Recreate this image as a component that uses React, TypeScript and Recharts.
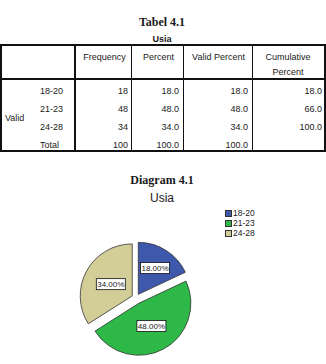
import React from 'react';
import { PieChart, Pie, Cell, Sector, Legend } from 'recharts';

// ---- data ----
const CATEGORIES = ['18-20', '21-23', '24-28'];
const FREQUENCY = [18, 48, 34];
const PERCENT = ['18.0', '48.0', '34.0'];
const VALID_PERCENT = ['18.0', '48.0', '34.0'];
const CUMULATIVE = ['18.0', '66.0', '100.0'];
const TOTAL_FREQ = '100';
const TOTAL_PERCENT = '100.0';
const TOTAL_VALID = '100.0';
const HEADERS = ['Frequency', 'Percent', 'Valid Percent'];

const pieData = CATEGORIES.map((name, i) => ({ name, value: FREQUENCY[i] }));

// ---- style ----
const COLORS = ['#3E58AC', '#2EB848', '#D3CE97'];
const EXPLODE = [4.3, 6, 4.3];
const LABEL_R = [0.6, 0.5, 0.47];
const SANS = "Arial, 'Liberation Sans', sans-serif";
const SERIF = "'Times New Roman', 'Liberation Serif', serif";
const INK = '#1a1a1a';

type TP = { x: number; y: number; a?: 'left' | 'center' | 'right'; size?: number; bold?: boolean; family?: string; children: React.ReactNode };
const T = ({ x, y, a = 'left', size = 9, bold = false, family = SANS, children }: TP) => {
  const w = 200;
  const left = a === 'left' ? x : a === 'center' ? x - w / 2 : x - w;
  return (
    <div
      style={{
        position: 'absolute', left, top: y - size, width: w, height: size * 2,
        lineHeight: `${size * 2}px`, fontSize: size, textAlign: a, fontFamily: family,
        fontWeight: bold ? 'bold' : 'normal', color: INK, whiteSpace: 'nowrap',
      }}
    >
      {children}
    </div>
  );
};

const L = ({ x, y, w, h }: { x: number; y: number; w: number; h: number }) => (
  <div style={{ position: 'absolute', left: x, top: y, width: w, height: h, background: '#111' }} />
);

const RAD = Math.PI / 180;
const renderSlice = (props: any) => {
  const { cx, cy, midAngle, innerRadius, outerRadius, startAngle, endAngle, index, percent } = props;
  const d = EXPLODE[index];
  const ox = cx + d * Math.cos(-midAngle * RAD);
  const oy = cy + d * Math.sin(-midAngle * RAD);
  const lr = outerRadius * LABEL_R[index];
  const lx = ox + lr * Math.cos(-midAngle * RAD);
  const ly = oy + lr * Math.sin(-midAngle * RAD);
  const text = (percent * 100).toFixed(2) + '%';
  return (
    <g key={`slice-${index}`}>
      <Sector
        cx={ox} cy={oy} innerRadius={innerRadius} outerRadius={outerRadius}
        startAngle={startAngle} endAngle={endAngle}
        fill={COLORS[index]} stroke="#333" strokeWidth={0.8}
      />
      <rect x={lx - 14.5} y={ly - 5.5} width={29} height={11} fill="#fff" stroke="#111" strokeWidth={0.8} />
      <text x={lx} y={ly + 0.5} textAnchor="middle" dominantBaseline="central" fontSize={8} fontFamily={SANS} fill={INK}>
        {text}
      </text>
    </g>
  );
};

const colX = [0, 75, 132, 183, 252, 325];
const rowY = [91, 109, 127, 145];
const valEnd = [128, 179, 248, 322];

export default function App() {
  return (
    <div style={{ position: 'absolute', left: 0, top: 0, width: 326, height: 364, background: '#fff', overflow: 'hidden' }}>
      <T x={162} y={22} a="center" size={12} bold family={SERIF}>Tabel 4.1</T>
      <T x={162} y={39} a="center" size={9} bold>Usia</T>

      {/* table lines */}
      <L x={0} y={44} w={326} h={2} />
      <L x={0} y={78} w={326} h={2} />
      <L x={0} y={150} w={326} h={2} />
      <L x={0} y={44} w={2} h={108} />
      <L x={324} y={44} w={2} h={108} />
      <L x={74} y={44} w={2} h={108} />
      <L x={131} y={44} w={1} h={108} />
      <L x={183} y={44} w={1} h={108} />
      <L x={252} y={44} w={1} h={108} />

      {/* headers */}
      {HEADERS.map((h, i) => (
        <T key={h} x={(colX[i + 1] + colX[i + 2]) / 2 + 1} y={57} a="center">{h}</T>
      ))}
      <T x={288} y={57} a="center">Cumulative</T>
      <T x={288} y={72} a="center">Percent</T>

      {/* rows */}
      <T x={5} y={118} a="left">Valid</T>
      {CATEGORIES.map((c, i) => (
        <React.Fragment key={c}>
          <T x={63} y={rowY[i]} a="right">{c}</T>
          <T x={valEnd[0]} y={rowY[i]} a="right">{FREQUENCY[i]}</T>
          <T x={valEnd[1]} y={rowY[i]} a="right">{PERCENT[i]}</T>
          <T x={valEnd[2]} y={rowY[i]} a="right">{VALID_PERCENT[i]}</T>
          <T x={valEnd[3]} y={rowY[i]} a="right">{CUMULATIVE[i]}</T>
        </React.Fragment>
      ))}
      <T x={40} y={rowY[3]} a="left">Total</T>
      <T x={valEnd[0]} y={rowY[3]} a="right">{TOTAL_FREQ}</T>
      <T x={valEnd[1]} y={rowY[3]} a="right">{TOTAL_PERCENT}</T>
      <T x={valEnd[2]} y={rowY[3]} a="right">{TOTAL_VALID}</T>

      <T x={162} y={180} a="center" size={12} bold family={SERIF}>Diagram 4.1</T>
      <T x={162} y={198} a="center" size={12}>Usia</T>

      <div style={{ position: 'absolute', left: 0, top: 200 }}>
        <PieChart width={326} height={164}>
          <Pie
            data={pieData}
            dataKey="value"
            nameKey="name"
            cx={131}
            cy={93}
            outerRadius={52}
            startAngle={90}
            endAngle={-270}
            isAnimationActive={false}
            label={renderSlice}
            labelLine={false}
            stroke="none"
          >
            {pieData.map((d) => (
              <Cell key={d.name} fill="none" stroke="none" />
            ))}
          </Pie>
          <Legend
            layout="vertical"
            verticalAlign="top"
            align="right"
            wrapperStyle={{ left: 225, top: 8, width: 60, right: 'auto' }}
            content={() => (
              <div>
                {CATEGORIES.map((c, i) => (
                  <div key={c} style={{ display: 'flex', alignItems: 'center', height: 10 }}>
                    <span style={{ display: 'inline-block', width: 7, height: 7, boxSizing: 'border-box', background: COLORS[i], border: '1px solid #333' }} />
                    <span style={{ marginLeft: 1, fontSize: 8.5, lineHeight: '10px', fontFamily: SANS, color: INK }}>{c}</span>
                  </div>
                ))}
              </div>
            )}
          />
        </PieChart>
      </div>
    </div>
  );
}
